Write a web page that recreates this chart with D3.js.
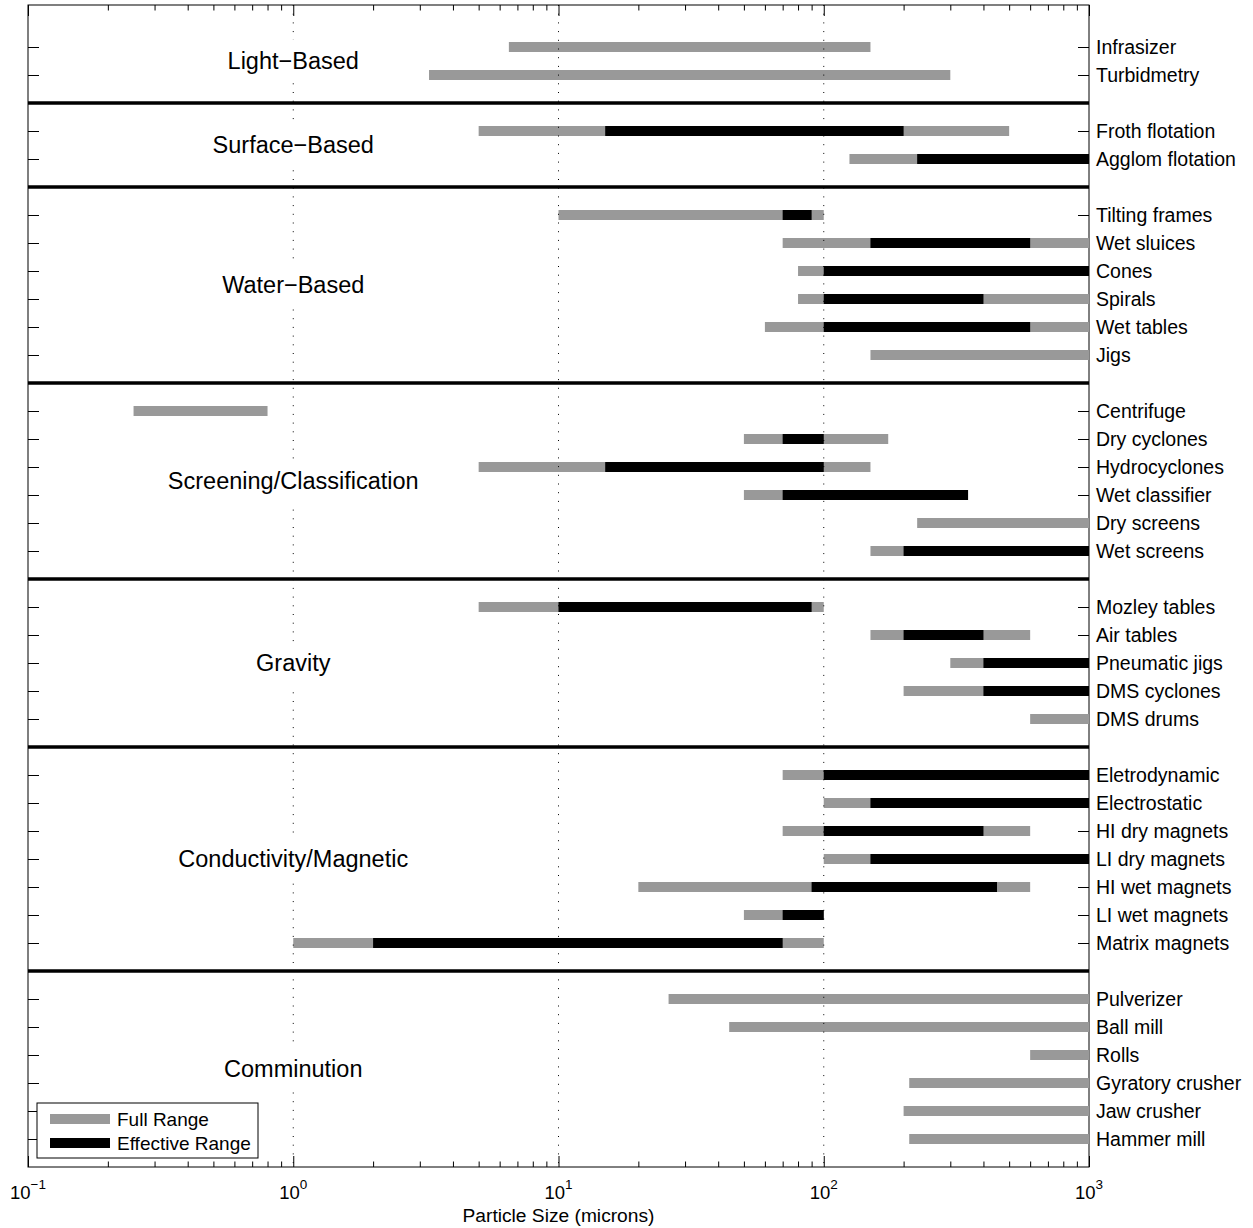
<!DOCTYPE html>
<html>
<head>
<meta charset="utf-8">
<script src="https://cdn.jsdelivr.net/npm/d3@7"></script>
<style>
  html, body { margin: 0; padding: 0; background: #fff; }
  svg { display: block; font-family: "Liberation Sans", Arial, Helvetica, sans-serif; }
</style>
</head>
<body>
<svg id="chart" width="1253" height="1228"></svg>
<script>
// ---------------- data ----------------
const groupNames  = ["Light\u2212Based", "Surface\u2212Based", "Water\u2212Based", "Screening/Classification", "Gravity", "Conductivity/Magnetic", "Comminution"];
const groupSizes  = [2, 2, 6, 6, 5, 7, 6];

const methods = ["Infrasizer", "Turbidmetry",
  "Froth flotation", "Agglom flotation",
  "Tilting frames", "Wet sluices", "Cones", "Spirals", "Wet tables", "Jigs",
  "Centrifuge", "Dry cyclones", "Hydrocyclones", "Wet classifier", "Dry screens", "Wet screens",
  "Mozley tables", "Air tables", "Pneumatic jigs", "DMS cyclones", "DMS drums",
  "Eletrodynamic", "Electrostatic", "HI dry magnets", "LI dry magnets", "HI wet magnets", "LI wet magnets", "Matrix magnets",
  "Pulverizer", "Ball mill", "Rolls", "Gyratory crusher", "Jaw crusher", "Hammer mill"];

const fullLow  = [6.5, 3.25,  5, 125,  10, 70, 80, 80, 60, 150,  0.25, 50, 5, 50, 225, 150,  5, 150, 300, 200, 600,  70, 100, 70, 100, 20, 50, 1,  26, 44, 600, 210, 200, 210];
const fullHigh = [150, 300,  500, 1000,  100, 1000, 1000, 1000, 1000, 1000,  0.8, 175, 150, 350, 1000, 1000,  100, 600, 1000, 1000, 1000,  1000, 1000, 600, 1000, 600, 100, 100,  1000, 1000, 1000, 1000, 1000, 1000];
const effLow   = [null, null,  15, 225,  70, 150, 100, 100, 100, null,  null, 70, 15, 70, null, 200,  10, 200, 400, 400, null,  100, 150, 100, 150, 90, 70, 2,  null, null, null, null, null, null];
const effHigh  = [null, null,  200, 1000,  90, 600, 1000, 400, 600, null,  null, 100, 100, 350, null, 1000,  90, 400, 1000, 1000, null,  1000, 1000, 400, 1000, 450, 100, 70,  null, null, null, null, null, null];

const xMajorTicks = [0.1, 1, 10, 100, 1000];
const xTickExponents = ["\u22121", "0", "1", "2", "3"];
const xLabel = "Particle Size (microns)";
const legendLabels = ["Full Range", "Effective Range"];
const fullColor = "#999999", effColor = "#000000";

// ---------------- layout ----------------
const mLeft = 28, mRight = 1089, mTop = 5, mBottom = 1167;
const svg = d3.select("#chart");

// row positions: each group's rows, then a separator slot
const rowPos = [];
const sepPos = [];
const groupMid = [];
let k = 0;
groupSizes.forEach((n, gi) => {
  const start = k;
  for (let i = 0; i < n; i++) rowPos.push(k++);
  groupMid.push((start + k - 1) / 2);
  if (gi < groupSizes.length - 1) sepPos.push(k++);
});

const x = d3.scaleLog().domain([0.1, 1000]).range([mLeft, mRight]);
const y = d3.scaleLinear().domain([-1.5, 40]).range([mTop, mBottom]);

// frame
svg.append("rect").attr("x", mLeft).attr("y", mTop)
  .attr("width", mRight - mLeft).attr("height", mBottom - mTop)
  .attr("fill", "none").attr("stroke", "#000").attr("stroke-width", 1);

// minor x ticks
const minorTicks = [];
for (let e = -1; e < 3; e++) for (let m = 2; m <= 9; m++) minorTicks.push(m * Math.pow(10, e));

function styleAxis(g) {
  g.select(".domain").remove();
  g.selectAll("line").attr("stroke", "#000").attr("stroke-width", 1);
}
svg.append("g").attr("transform", `translate(0,${mBottom})`)
  .call(d3.axisBottom(x).tickValues(xMajorTicks).tickSizeInner(-11).tickSizeOuter(0).tickFormat(""))
  .call(styleAxis);
svg.append("g").attr("transform", `translate(0,${mBottom})`)
  .call(d3.axisBottom(x).tickValues(minorTicks).tickSizeInner(-5.5).tickSizeOuter(0).tickFormat(""))
  .call(styleAxis);
svg.append("g").attr("transform", `translate(0,${mTop})`)
  .call(d3.axisTop(x).tickValues(xMajorTicks).tickSizeInner(-11).tickSizeOuter(0).tickFormat(""))
  .call(styleAxis);
svg.append("g").attr("transform", `translate(0,${mTop})`)
  .call(d3.axisTop(x).tickValues(minorTicks).tickSizeInner(-5.5).tickSizeOuter(0).tickFormat(""))
  .call(styleAxis);

// y ticks (inward on both sides)
svg.append("g").attr("transform", `translate(${mLeft},0)`)
  .call(d3.axisLeft(y).tickValues(rowPos).tickSizeInner(-11).tickSizeOuter(0).tickFormat(""))
  .call(styleAxis);
svg.append("g").attr("transform", `translate(${mRight},0)`)
  .call(d3.axisRight(y).tickValues(rowPos).tickSizeInner(-11).tickSizeOuter(0).tickFormat(""))
  .call(styleAxis);

// x tick labels with superscripts
xMajorTicks.forEach((v, i) => {
  const t = svg.append("text").attr("x", x(v)).attr("y", 1199)
    .attr("text-anchor", "middle").attr("font-size", 18.5).attr("fill", "#000");
  t.append("tspan").text("10");
  t.append("tspan").attr("dy", -10).attr("font-size", 13.5).text(xTickExponents[i]);
});

svg.append("text").attr("x", x(10)).attr("y", 1222)
  .attr("text-anchor", "middle").attr("font-size", 19.2).attr("fill", "#000").text(xLabel);

// bars
const rows = methods.map((m, i) => ({ name: m, pos: rowPos[i], fl: fullLow[i], fh: fullHigh[i], el: effLow[i], eh: effHigh[i] }));
const barW = 10;
svg.append("g").selectAll("line").data(rows).join("line")
  .attr("x1", d => x(d.fl)).attr("x2", d => x(d.fh))
  .attr("y1", d => y(d.pos)).attr("y2", d => y(d.pos))
  .attr("stroke", fullColor).attr("stroke-width", barW);
svg.append("g").selectAll("line").data(rows.filter(d => d.el != null)).join("line")
  .attr("x1", d => x(d.el)).attr("x2", d => x(d.eh))
  .attr("y1", d => y(d.pos)).attr("y2", d => y(d.pos))
  .attr("stroke", effColor).attr("stroke-width", barW);

// dotted grid lines
svg.append("g").selectAll("line").data([1, 10, 100]).join("line")
  .attr("x1", d => x(d)).attr("x2", d => x(d))
  .attr("y1", mTop).attr("y2", mBottom)
  .attr("stroke", "#000").attr("stroke-width", 1).attr("stroke-dasharray", "1,7.7");

// row labels
svg.append("g").selectAll("text").data(rows).join("text")
  .attr("x", mRight + 7).attr("y", d => y(d.pos)).attr("dy", "0.36em")
  .attr("font-size", 19.5).attr("fill", "#000").text(d => d.name);

// separators
svg.append("g").selectAll("line").data(sepPos).join("line")
  .attr("x1", mLeft).attr("x2", mRight)
  .attr("y1", d => y(d)).attr("y2", d => y(d))
  .attr("stroke", "#000").attr("stroke-width", 3.5);

// group labels with white background
const gl = svg.append("g");
groupNames.forEach((name, i) => {
  const cy = y(groupMid[i]);
  const g = gl.append("g");
  const rect = g.append("rect");
  const t = g.append("text").attr("x", x(1)).attr("y", cy).attr("dy", "0.35em")
    .attr("text-anchor", "middle").attr("font-size", 23.5).attr("fill", "#000").text(name);
  const bb = t.node().getBBox();
  rect.attr("x", bb.x - 4).attr("y", cy - 21).attr("width", bb.width + 8).attr("height", 43).attr("fill", "#fff");
});

// legend
const lg = svg.append("g");
lg.append("rect").attr("x", 37).attr("y", 1103).attr("width", 221).attr("height", 55)
  .attr("fill", "#fff").attr("stroke", "#000").attr("stroke-width", 1);
[fullColor, effColor].forEach((c, i) => {
  const ly = 1119 + i * 24;
  lg.append("line").attr("x1", 50).attr("x2", 110).attr("y1", ly).attr("y2", ly)
    .attr("stroke", c).attr("stroke-width", barW);
  lg.append("text").attr("x", 117).attr("y", ly).attr("dy", "0.35em")
    .attr("font-size", 19).attr("fill", "#000").text(legendLabels[i]);
});
</script>
</body>
</html>
